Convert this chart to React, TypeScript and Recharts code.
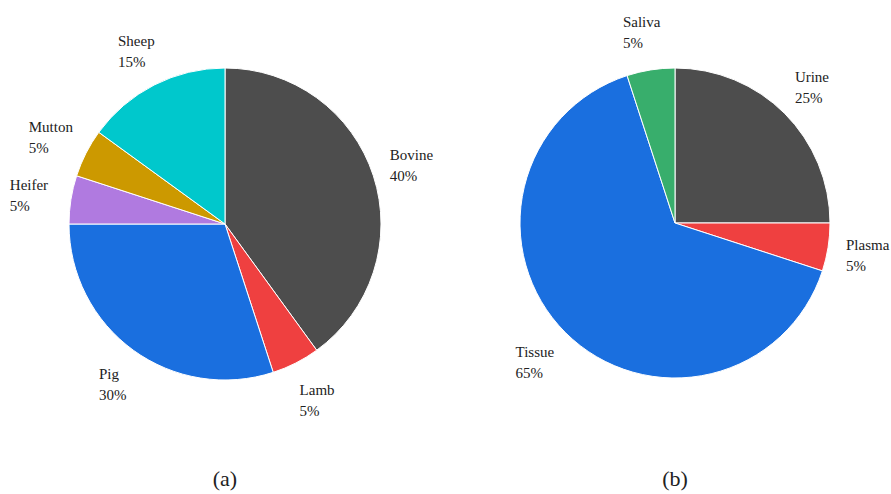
import { PieChart, Pie, Cell } from 'recharts'

// (a) source species
const meatNames = ['Bovine', 'Lamb', 'Pig', 'Heifer', 'Mutton', 'Sheep']
const meatShares = [40, 5, 30, 5, 5, 15]
const meatColors = ['#4d4d4d', '#ef4040', '#1a6fdf', '#b07ae0', '#cc9900', '#00c8cc']

// (b) sample type
const sampleNames = ['Urine', 'Plasma', 'Tissue', 'Saliva']
const sampleShares = [25, 5, 65, 5]
const sampleColors = ['#4d4d4d', '#ef4040', '#1a6fdf', '#38ae6c']

const meatData = meatNames.map((name, i) => ({ name, value: meatShares[i] }))
const sampleData = sampleNames.map((name, i) => ({ name, value: sampleShares[i] }))

const FONT = '"Liberation Serif", "Times New Roman", serif'
const RADIAN = Math.PI / 180

function renderLabel(props: any) {
  const { cx, cy, midAngle, outerRadius, name, value } = props
  const r = outerRadius + 40
  const x = cx + r * Math.cos(-midAngle * RADIAN)
  const y = cy + r * Math.sin(-midAngle * RADIAN)
  const pct = `${value}%`
  const w = Math.max(name.length, pct.length) * 7.2
  const left = x - w / 2
  return (
    <text x={left} y={y} fill="#222" fontSize={15} textAnchor="start" style={{ fontFamily: FONT }}>
      <tspan x={left} y={y - 3.5}>{name}</tspan>
      <tspan x={left} y={y + 17.5}>{pct}</tspan>
    </text>
  )
}

export default function App() {
  return (
    <div style={{ position: 'absolute', left: 0, top: 0, width: 891, height: 494, background: '#fff' }}>
      <PieChart width={891} height={494} margin={{ top: 0, right: 0, bottom: 0, left: 0 }}>
        <Pie
          data={meatData}
          dataKey="value"
          nameKey="name"
          cx={225}
          cy={224}
          outerRadius={156}
          startAngle={90}
          endAngle={-270}
          stroke="#fff"
          strokeWidth={1}
          label={renderLabel}
          labelLine={false}
          isAnimationActive={false}
        >
          {meatData.map((d, i) => <Cell key={d.name} fill={meatColors[i]} />)}
        </Pie>
        <Pie
          data={sampleData}
          dataKey="value"
          nameKey="name"
          cx={675}
          cy={223}
          outerRadius={155}
          startAngle={90}
          endAngle={-270}
          stroke="#fff"
          strokeWidth={1}
          label={renderLabel}
          labelLine={false}
          isAnimationActive={false}
        >
          {sampleData.map((d, i) => <Cell key={d.name} fill={sampleColors[i]} />)}
        </Pie>
      </PieChart>
      <div style={{ position: 'absolute', left: 175, width: 100, top: 466, textAlign: 'center', fontFamily: FONT, fontSize: 22, color: '#222' }}>(a)</div>
      <div style={{ position: 'absolute', left: 625, width: 100, top: 466, textAlign: 'center', fontFamily: FONT, fontSize: 22, color: '#222' }}>(b)</div>
    </div>
  )
}
